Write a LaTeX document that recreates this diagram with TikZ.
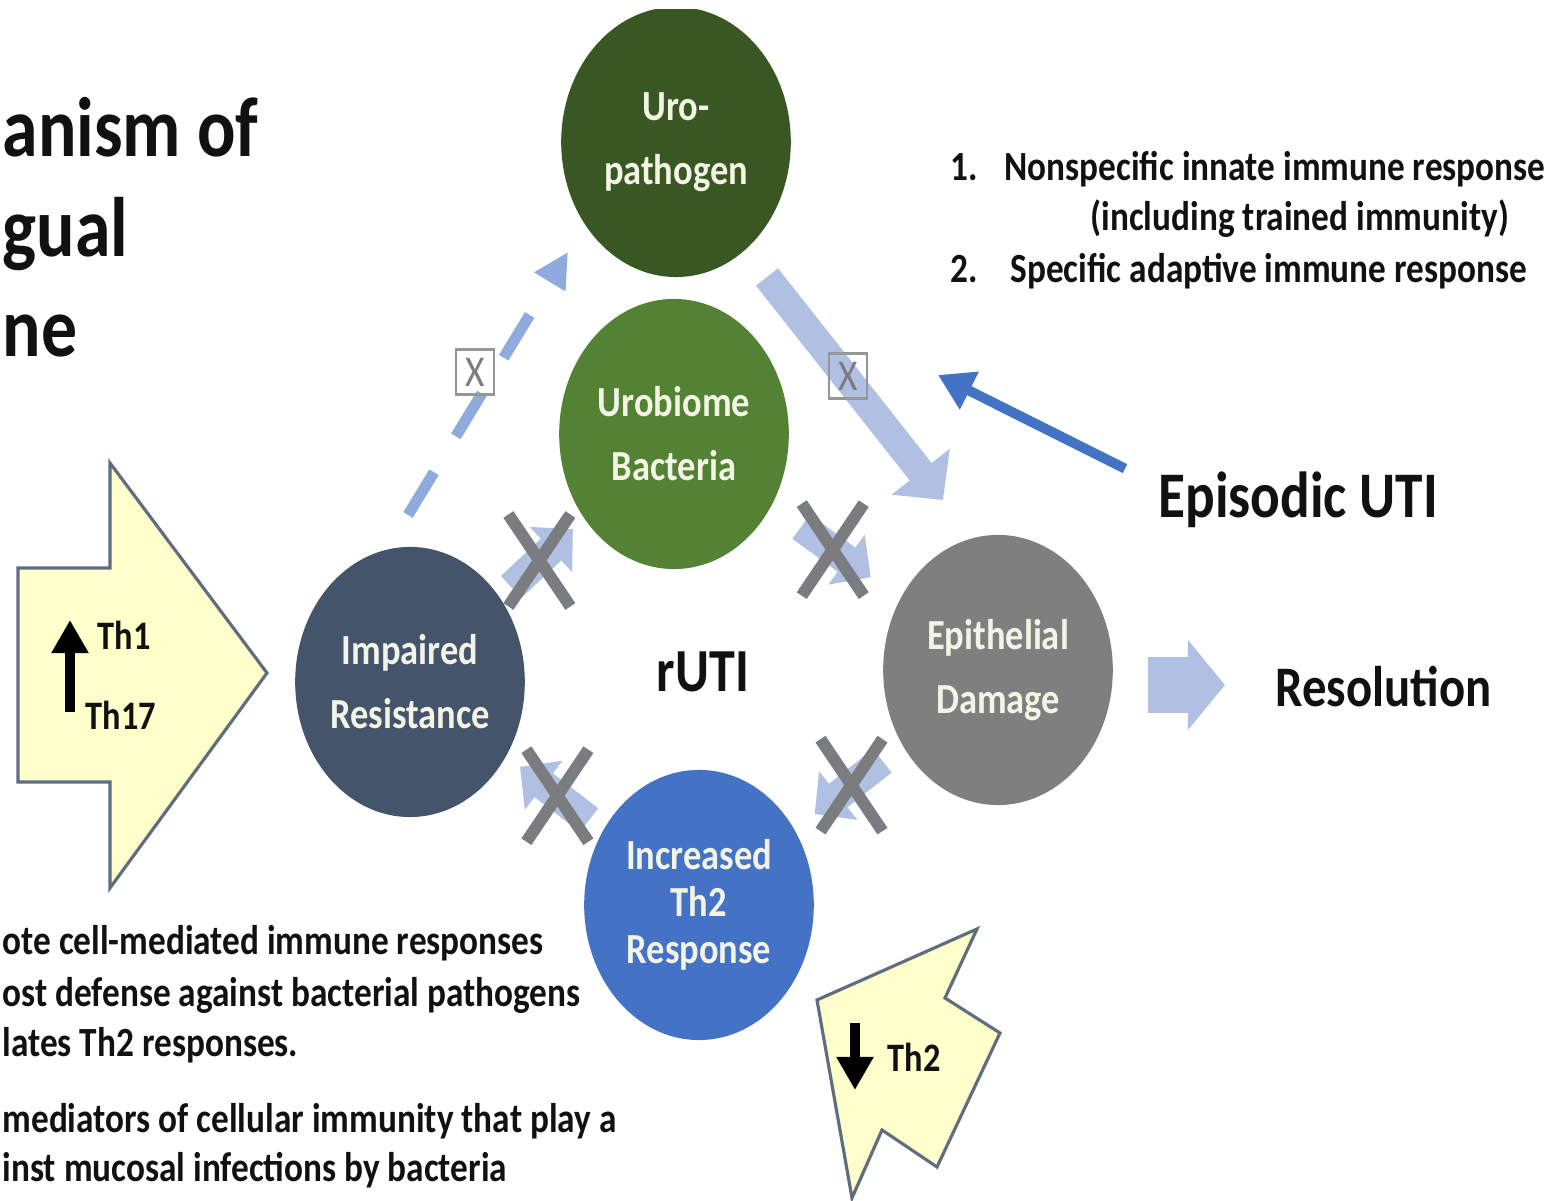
\documentclass[tikz,border=0pt]{standalone}
\usepackage{fontspec}
\setmainfont{Carlito}
\usetikzlibrary{arrows.meta,calc}
\definecolor{uroG}{HTML}{385723}
\definecolor{urobG}{HTML}{548235}
\definecolor{impS}{HTML}{44546A}
\definecolor{epiG}{HTML}{7F7F7F}
\definecolor{thB}{HTML}{4472C4}
\definecolor{paleB}{HTML}{AFC0E3}
\definecolor{dashB}{HTML}{8FAADC}
\definecolor{crossG}{HTML}{7B7C80}
\definecolor{yelF}{HTML}{FFFFCC}
\definecolor{yelE}{HTML}{5E6E80}
\definecolor{blobT}{HTML}{F3F3E6}
\definecolor{inkT}{HTML}{111111}

\begin{document}
\begin{tikzpicture}[
    x=0.01cm,y=-0.01cm,
    blob/.style={circle,minimum size=2.7cm,inner sep=0pt,xscale=0.85,
                 align=center,text=blobT,
                 font=\bfseries\fontsize{12.2}{18.2}\selectfont},
    lbl/.style={inner sep=0pt,xscale=0.85,text=inkT,
                font=\bfseries\fontsize{11.8}{11.8}\selectfont},
    big/.style={inner sep=0pt,xscale=0.85,text=inkT},
    xbox/.style={draw=crossG!80,line width=0.6pt,inner sep=0pt,xscale=0.85,
                 minimum width=0.44cm,minimum height=0.45cm,text=crossG,
                 font=\fontsize{12.5}{12.5}\selectfont},
    yarrow/.style={fill=yelF,draw=yelE,line width=0.9pt,line join=miter},
    bigflow/.style={draw=paleB,line width=0.28cm,
                    -{Triangle[width=0.72cm,length=0.36cm]}},
    minorflow/.style={draw=paleB,line width=0.3cm,
                      -{Triangle[width=0.6cm,length=0.3cm]}},
    dashflow/.style={draw=dashB,line width=0.11cm,
                     dash pattern=on 0.5cm off 0.42cm,
                     -{Triangle[width=0.34cm,length=0.35cm]}},
    epiflow/.style={draw=thB,line width=0.1cm,
                    -{Triangle[width=0.4cm,length=0.35cm]}},
    resflow/.style={draw=paleB,line width=0.56cm,
                    -{Triangle[width=0.88cm,length=0.37cm]}},
    blackflow/.style={draw=black,line width=0.1cm,
                      -{Triangle[width=0.35cm,length=0.33cm]}},
    xmark/.style={draw=crossG,line width=0.12cm},
]
\useasboundingbox (0,0) rectangle (1556,1201);

% ---------------------------------------------------------------
%  title fragment on the left
% ---------------------------------------------------------------
\node[big,anchor=base west,font=\bfseries\fontsize{24}{24}\selectfont] (ttl1) at (2,157) {anism of};
\node[big,anchor=base west,font=\bfseries\fontsize{24}{24}\selectfont] (ttl2) at (2,257) {gual};
\node[big,anchor=base west,font=\bfseries\fontsize{24}{24}\selectfont] (ttl3) at (2,357) {ne};

% ---------------------------------------------------------------
%  the five circles
% ---------------------------------------------------------------
\begin{scope}
  \clip (0,10) rectangle (1556,1201);
  \node[blob,fill=uroG] (uro) at (676,142) {Uro-\\pathogen};
\end{scope}
\node[blob,fill=urobG] (urob) at (674,434) {Urobiome\\Bacteria};
\node[blob,fill=impS]  (imp)  at (410,682) {Impaired\\Resistance};
\node[blob,fill=epiG]  (epi)  at (998,670) {Epithelial\\Damage};
\node[blob,fill=thB,font=\bfseries\fontsize{12.2}{13.4}\selectfont]
     (th2) at (699,905) {Increased\\Th2\\Response};

\node[big,font=\bfseries\fontsize{17.4}{17.4}\selectfont,anchor=base] (ruti) at (703,692) {rUTI};

% ---------------------------------------------------------------
%  blocked arrows round the ring (each crossed out)
% ---------------------------------------------------------------
\foreach \a/\b/\s in {imp/urob/0.15,urob/epi/0.36,th2/imp/0.17,epi/th2/0.25}
   \draw[minorflow,shorten <=\s cm,shorten >=\s cm] (\a) -- (\b);
\foreach \a/\b in {imp/urob,urob/epi,th2/imp,epi/th2}
   \draw[xmark] ($(\a)!0.49!(\b)$) ++(-31,-46) -- ++(62,92) ++(0,-92) -- ++(-62,92);

% impaired resistance -> uropathogen (dashed), uropathogen -> damage
\coordinate (dashS) at (408,515);
\coordinate (dashT) at (568,252);
\draw[dashflow] (dashS) -- (dashT);
\coordinate (bigS) at (767,277);
\coordinate (bigT) at (943,500);
\draw[bigflow] (bigS) -- (bigT);
\node[xbox] (xb1) at (475,372) {X};
\node[xbox] (xb2) at (848,376) {X};

% ---------------------------------------------------------------
%  right side: immune responses, episodic UTI, resolution
% ---------------------------------------------------------------
\node[lbl,anchor=base west] (num1)  at (950,181)  {1.};
\node[lbl,anchor=base west] (item1) at (1004,181) {Nonspecific innate immune response};
\node[lbl,anchor=base west] (item1b) at (1090,231) {(including trained immunity)};
\node[lbl,anchor=base west] (num2)  at (950,283)  {2.};
\node[lbl,anchor=base west] (item2) at (1010,283) {Specific adaptive immune response};

\node[big,anchor=base west,font=\bfseries\fontsize{18.5}{18.5}\selectfont] (epis) at (1158,518) {Episodic UTI};
\coordinate (episT) at (938,375);
\draw[epiflow] ($(epis.north west)+(-33,-3)$) -- (episT);

\node[big,anchor=base west,font=\bfseries\fontsize{16.3}{16.3}\selectfont] (res) at (1275,707) {Resolution};
\draw[resflow,shorten <=0.35cm,shorten >=0.5cm] (epi.east |- 0,685) -- (res.west |- 0,685);

% ---------------------------------------------------------------
%  yellow block arrows
% ---------------------------------------------------------------
\draw[yarrow] (18,568) -- (110,568) -- (110,463) -- (267,673) -- (110,888)
              -- (110,782) -- (18,782) -- cycle;
\coordinate (upS) at (70,712);
\coordinate (upT) at (70,620);
\draw[blackflow] (upS) -- (upT);
\node[lbl,anchor=base west,font=\bfseries\fontsize{11.5}{11.5}\selectfont] (th1)  at (97,650) {Th1};
\node[lbl,anchor=base west,font=\bfseries\fontsize{11.5}{11.5}\selectfont] (th17) at (85,730) {Th17};

\draw[yarrow] (817,1000) -- (977,929) -- (945,998) -- (1000,1033) -- (937,1167)
              -- (882,1130) -- (852,1198) -- cycle;
\coordinate (dnS) at (855,1023);
\coordinate (dnT) at (855,1090);
\draw[blackflow] (dnS) -- (dnT);
\node[lbl,anchor=base west,font=\bfseries\fontsize{11.5}{11.5}\selectfont] (th2lbl) at (887,1072) {Th2};

% ---------------------------------------------------------------
%  notes at the bottom left
% ---------------------------------------------------------------
\node[lbl,anchor=base west] (note1) at (2,955)  {ote cell-mediated immune responses};
\node[lbl,anchor=base west] (note2) at (2,1007) {ost defense against bacterial pathogens};
\node[lbl,anchor=base west] (note3) at (2,1057) {lates Th2 responses.};
\node[lbl,anchor=base west] (note4) at (2,1133) {mediators of cellular immunity that play a};
\node[lbl,anchor=base west] (note5) at (2,1182) {inst mucosal infections by bacteria};

\end{tikzpicture}
\end{document}
